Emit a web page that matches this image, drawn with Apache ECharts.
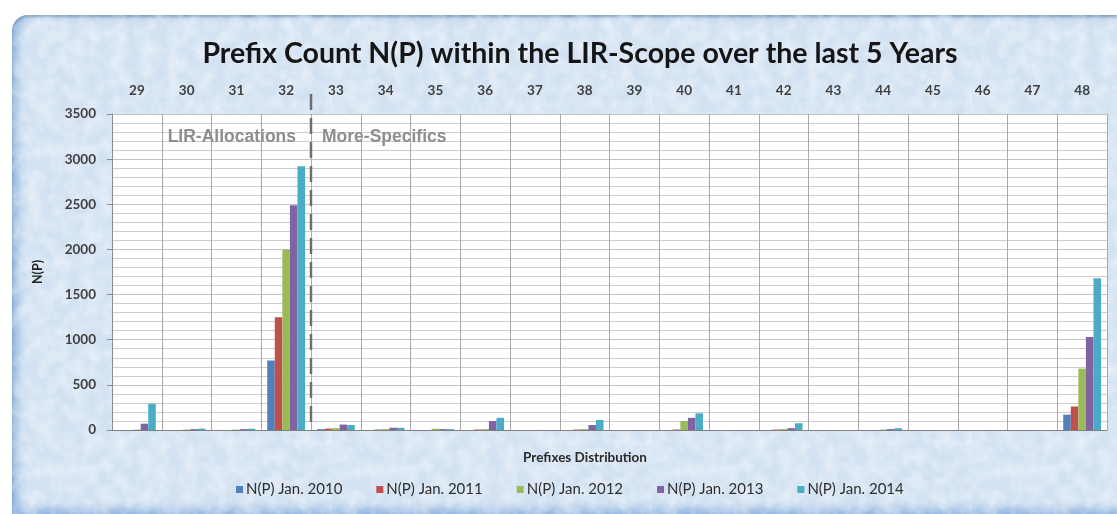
<!DOCTYPE html>
<html>
<head>
<meta charset="utf-8">
<script src="https://cdn.jsdelivr.net/npm/echarts@6/dist/echarts.min.js"></script>
<style>
  html, body { margin: 0; padding: 0; background: #fff; width: 1117px; height: 514px; overflow: hidden; }
  #panel {
    position: absolute; left: 12px; top: 15px; width: 1130px; height: 499px;
    border-radius: 16px 16px 0 0; background-color: #d3e2f2;
    box-shadow: inset 0 2px 3px rgba(80, 110, 140, 0.55), inset 7px 0 9px rgba(110, 160, 215, 0.55),
                inset 0 -7px 7px rgba(110, 160, 215, 0.45);
    overflow: hidden;
  }
  #grain {
    position: absolute; left: 0; top: 0; width: 100%; height: 100%; opacity: 0.55;
    background-image: url("data:image/svg+xml;utf8,<svg xmlns='http://www.w3.org/2000/svg' width='320' height='320'><filter id='n'><feTurbulence type='fractalNoise' baseFrequency='0.07' numOctaves='3' seed='4'/><feColorMatrix values='0 0 0 0 1  0 0 0 0 1  0 0 0 0 1  0 0 0 1.6 -0.55'/></filter><rect width='100%' height='100%' filter='url(%23n)'/></svg>");
  }
  #chart { position: absolute; left: 0; top: 0; width: 1117px; height: 514px; }
</style>
</head>
<body>
<div id="panel"><div id="grain"></div></div>
<div id="chart"></div>
<script>
// Prefix lengths (/29 .. /48)
const categories = ['29', '30', '31', '32', '33', '34', '35', '36', '37', '38',
                    '39', '40', '41', '42', '43', '44', '45', '46', '47', '48'];

// Prefix counts per snapshot
const jan2010 = [0, 0, 0, 770, 10, 0, 0, 0, 0, 0, 0, 0, 0, 0, 0, 0, 0, 0, 0, 170];
const jan2011 = [0, 0, 0, 1250, 15, 5, 0, 5, 0, 5, 0, 5, 0, 5, 0, 0, 0, 0, 0, 260];
const jan2012 = [5, 5, 5, 2000, 20, 10, 15, 10, 0, 10, 0, 100, 0, 10, 0, 5, 0, 0, 0, 680];
const jan2013 = [70, 10, 10, 2490, 60, 25, 10, 100, 0, 55, 0, 135, 0, 20, 0, 10, 0, 0, 0, 1030];
const jan2014 = [290, 15, 15, 2920, 55, 25, 10, 135, 0, 110, 0, 185, 0, 75, 0, 20, 0, 0, 0, 1680];

const seriesNames = ['N(P) Jan. 2010', 'N(P) Jan. 2011', 'N(P) Jan. 2012', 'N(P) Jan. 2013', 'N(P) Jan. 2014'];
const seriesData = [jan2010, jan2011, jan2012, jan2013, jan2014];
const palette = ['#4F81BD', '#C0504D', '#9BBB59', '#8064A2', '#4BACC6'];

const yMin = 0, yMax = 3500, yStep = 500;

const chart = echarts.init(document.getElementById('chart'), null, { renderer: 'canvas' });

const labelFont = { fontFamily: 'Lato', fontSize: 13.5, fontWeight: 'bold', color: '#404040' };

const option = {
  animation: false,
  color: palette,
  legend: {
    data: seriesNames,
    left: 236, top: 482, padding: 0,
    icon: 'rect', itemWidth: 7, itemHeight: 7, itemGap: 34,
    textStyle: { fontFamily: 'Lato', fontSize: 15, color: '#2e2e2e', padding: [0, 0, 0, -2] }
  },
  grid: {
    left: 112, right: 10, top: 114, bottom: 84,
    show: true, backgroundColor: '#ffffff', borderWidth: 0
  },
  xAxis: [
    {
      type: 'category', data: categories, position: 'bottom',
      axisLabel: { show: false },
      axisTick: { show: false },
      axisLine: { lineStyle: { color: '#7f7f7f', width: 1 } },
      splitLine: { show: true, lineStyle: { color: '#a9a9a9', width: 1 } }
    },
    {
      type: 'category', data: categories, position: 'top',
      axisLine: { show: false }, axisTick: { show: false },
      axisLabel: Object.assign({ margin: 16 }, labelFont)
    }
  ],
  yAxis: {
    type: 'value', min: yMin, max: yMax, interval: yStep,
    name: 'N(P)', nameLocation: 'middle', nameGap: 68, nameRotate: 90,
    nameTextStyle: { fontFamily: 'Lato', fontSize: 12.5, fontWeight: 'bold', color: '#222' },
    axisLine: { show: true, lineStyle: { color: '#8c8c8c' } },
    axisTick: { show: true, length: 5, lineStyle: { color: '#8c8c8c' } },
    axisLabel: Object.assign({ margin: 16, formatter: v => String(v) }, labelFont),
    splitLine: { show: true, lineStyle: { color: '#c4c4c4', width: 1 } },
    minorTick: { show: false, splitNumber: 5 },
    minorSplitLine: { show: true, lineStyle: { color: '#cdcdcd', width: 1 } }
  },
  series: seriesNames.map((name, i) => ({
    name: name,
    type: 'bar',
    xAxisIndex: 0,
    data: seriesData[i],
    barGap: '0%',
    barCategoryGap: '24%',
    itemStyle: { color: palette[i] }
  }))
};

chart.setOption(option);

// Divider between the allocation sizes (/29-/32) and the more-specifics (/33+)
const x32 = chart.convertToPixel({ xAxisIndex: 0 }, categories[3]);
const x33 = chart.convertToPixel({ xAxisIndex: 0 }, categories[4]);
const xDiv = (x32 + x33) / 2;
const yTop = chart.convertToPixel({ yAxisIndex: 0 }, yMax);
const yBase = chart.convertToPixel({ yAxisIndex: 0 }, yMin);

chart.setOption({
  graphic: [
    {
      type: 'text', z: 50, x: 580, y: 54,
      style: { text: 'Prefix Count N(P) within the LIR-Scope over the last 5 Years',
               align: 'center', verticalAlign: 'middle',
               fontFamily: 'Lato', fontSize: 28.5, fontWeight: 'bold', fill: '#151515' }
    },
    {
      type: 'line', z: 50,
      shape: { x1: xDiv, y1: yTop - 20, x2: xDiv, y2: yBase },
      style: { stroke: '#6e6e6e', lineWidth: 2.5, lineDash: [16, 8] }
    },
    {
      type: 'text', z: 50, x: xDiv - 15, y: yTop + 23,
      style: { text: 'LIR-Allocations', align: 'right', verticalAlign: 'middle',
               fontFamily: 'Liberation Sans', fontSize: 17.5, fontWeight: 'bold', fill: '#8e8e8e' }
    },
    {
      type: 'text', z: 50, x: xDiv + 11, y: yTop + 23,
      style: { text: 'More-Specifics', align: 'left', verticalAlign: 'middle',
               fontFamily: 'Liberation Sans', fontSize: 17.5, fontWeight: 'bold', fill: '#8e8e8e' }
    },
    {
      type: 'text', z: 50, x: 585, y: 458,
      style: { text: 'Prefixes Distribution', align: 'center', verticalAlign: 'middle',
               fontFamily: 'Lato', fontSize: 13.5, fontWeight: 'bold', fill: '#2a2a2a' }
    }
  ]
});
</script>
</body>
</html>
